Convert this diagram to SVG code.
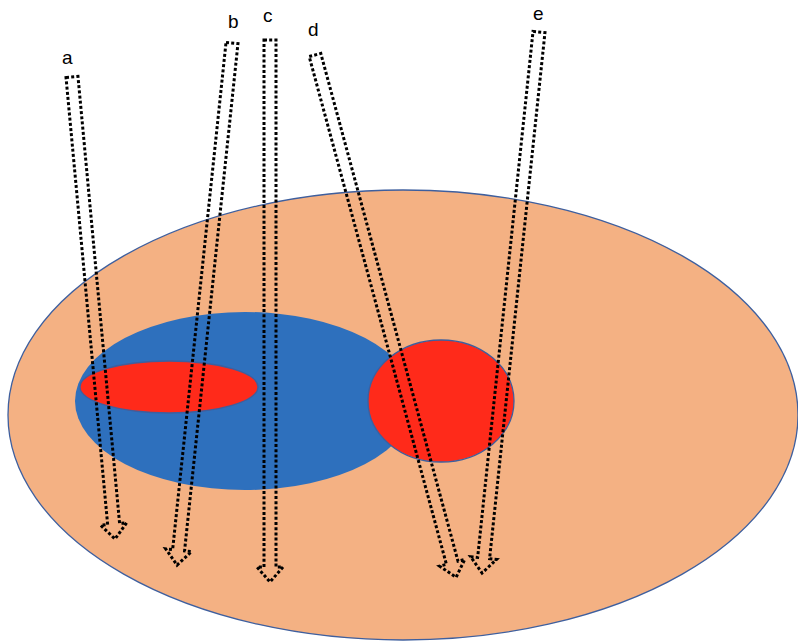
<svg xmlns="http://www.w3.org/2000/svg" width="798" height="644" viewBox="0 0 798 644">
<style>
.arr{fill:none;stroke:#000;stroke-width:3;stroke-dasharray:3 2.2;stroke-linejoin:miter}
.lbl{font-family:"Liberation Sans",Arial,sans-serif;font-size:19px;fill:#000}
.ol{stroke:#3E5F9E;stroke-width:1.3}
</style>
<rect width="798" height="644" fill="#fff"/>
<g id="outer"><ellipse cx="403" cy="415" rx="395" ry="225" fill="#F4B183" class="ol"/></g>
<g id="blue"><ellipse cx="245" cy="401" rx="170" ry="89" fill="#2E70BD"/></g>
<g id="redSmall"><ellipse cx="169" cy="387" rx="89" ry="26" fill="#FF2A1A" class="ol"/></g>
<g id="redCircle"><ellipse cx="441" cy="401" rx="73" ry="61" fill="#FF2A1A" class="ol"/></g>
<g id="connectors">
<path id="arrow-a" class="arr" transform="translate(72,77) rotate(-5.32)" d="M-6 0 L6 0 L6 449 L13 449 L0 464 L-13 449 L-6 449 Z"/>
<path id="arrow-b" class="arr" transform="translate(232,43) rotate(6.01)" d="M-6 0 L6 0 L6 510 L13 510 L0 525 L-13 510 L-6 510 Z"/>
<path id="arrow-c" class="arr" transform="translate(270,40)" d="M-6 0 L6 0 L6 527 L13 527 L0 542 L-13 527 L-6 527 Z"/>
<path id="arrow-d" class="arr" transform="translate(315,55) rotate(-15.12)" d="M-6 0 L6 0 L6 526 L13 526 L0 541 L-13 526 L-6 526 Z"/>
<path id="arrow-e" class="arr" transform="translate(539,32) rotate(6.01)" d="M-6 0 L6 0 L6 529 L13 529 L0 544 L-13 529 L-6 529 Z"/>
</g>
<g id="labels">
<text class="lbl" x="62" y="64">a</text>
<text class="lbl" x="228" y="28">b</text>
<text class="lbl" x="263" y="22">c</text>
<text class="lbl" x="308" y="36">d</text>
<text class="lbl" x="533" y="20">e</text>
</g>
</svg>
